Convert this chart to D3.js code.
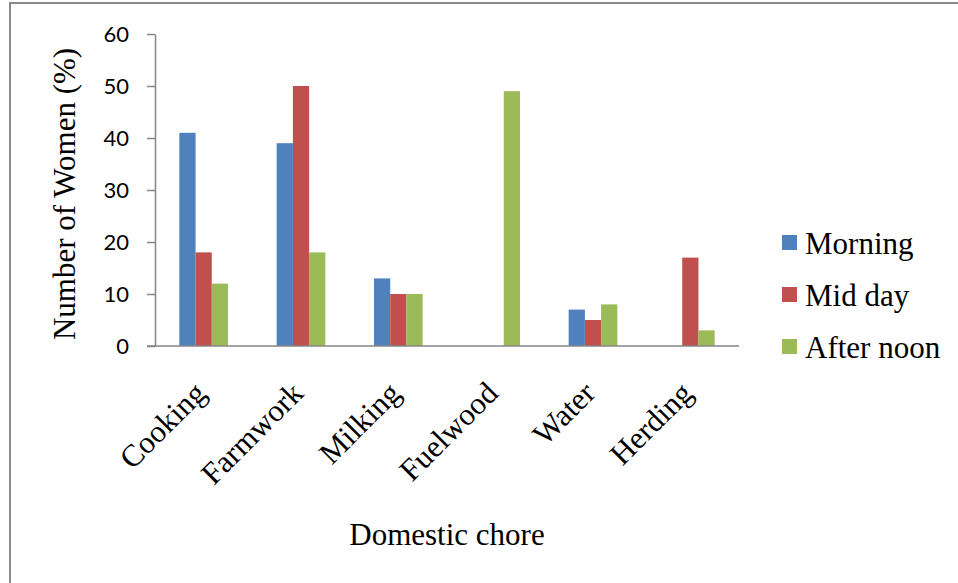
<!DOCTYPE html>
<html>
<head>
<meta charset="utf-8">
<script src="https://cdn.jsdelivr.net/npm/d3@7"></script>
<style>
  html, body { margin: 0; padding: 0; background: #fff; }
  svg { display: block; }
</style>
</head>
<body>
<svg id="chart" width="958" height="583"></svg>
<script>
// Share of women doing each domestic chore, by time of day
const categories = ["Cooking", "Farmwork", "Milking", "Fuelwood", "Water", "Herding"];
const seriesNames = ["Morning", "Mid day", "After noon"];
const morning   = [41, 39, 13, 0, 7, 0];
const midDay    = [18, 50, 10, 0, 5, 17];
const afterNoon = [12, 18, 10, 49, 8, 3];
const yTicks = [0, 10, 20, 30, 40, 50, 60];
const colors = ["#4F81BD", "#C0504D", "#9BBB59"];

const seriesValues = [morning, midDay, afterNoon];
const rows = categories.map((c, i) => ({
  category: c,
  values: seriesNames.map((s, j) => ({ series: s, value: seriesValues[j][i] }))
}));

const svg = d3.select("#chart");
const serif = "'Liberation Serif', 'Times New Roman', serif";
const axisColor = "#868686";

// Outer chart frame
svg.append("rect")
  .attr("x", 10).attr("y", 3)
  .attr("width", 1000).attr("height", 700)
  .attr("fill", "none")
  .attr("stroke", "#8a8a8a")
  .attr("stroke-width", 2);

const plot = { left: 155, right: 739, top: 34, bottom: 346 };

const x = d3.scaleBand().domain(categories).range([plot.left, plot.right]).padding(0);
const xInner = d3.scaleBand().domain(seriesNames)
  .range([x.bandwidth() * 0.25, x.bandwidth() * 0.75]).padding(0);
const y = d3.scaleLinear().domain([0, 60]).range([plot.bottom, plot.top]);
const color = d3.scaleOrdinal().domain(seriesNames).range(colors);

// Bars
const groups = svg.append("g").selectAll("g")
  .data(rows).join("g")
  .attr("transform", d => `translate(${x(d.category)},0)`);

groups.selectAll("rect")
  .data(d => d.values.filter(v => v.value > 0))
  .join("rect")
  .attr("x", d => xInner(d.series))
  .attr("width", xInner.bandwidth())
  .attr("y", d => y(d.value))
  .attr("height", d => y(0) - y(d.value))
  .attr("fill", d => color(d.series));

// Y axis
const yAxis = svg.append("g")
  .attr("transform", `translate(${plot.left},0)`)
  .call(d3.axisLeft(y).tickValues(yTicks).tickSize(8).tickPadding(18).tickSizeOuter(0));
yAxis.select(".domain").attr("stroke", axisColor).attr("stroke-width", 1.5);
yAxis.selectAll(".tick line").attr("stroke", axisColor).attr("stroke-width", 1.5);
yAxis.selectAll(".tick text")
  .attr("fill", "#000")
  .style("font-family", "Lato, 'Liberation Sans', sans-serif")
  .style("font-size", "22px");

// X axis
const xAxis = svg.append("g")
  .attr("transform", `translate(0,${plot.bottom})`)
  .call(d3.axisBottom(x).tickSize(0).tickSizeOuter(0).tickPadding(0));
xAxis.select(".domain").remove();
xAxis.append("line")
  .attr("x1", plot.left - 8).attr("x2", plot.right)
  .attr("y1", 0).attr("y2", 0)
  .attr("stroke", axisColor).attr("stroke-width", 1.5);
xAxis.selectAll(".tick text")
  .attr("fill", "#000")
  .attr("text-anchor", "end")
  .attr("dy", 0)
  .attr("y", 0)
  .attr("transform", "translate(4,49) rotate(-45)")
  .style("font-family", serif)
  .style("font-size", "31px");

// Axis titles
svg.append("text")
  .attr("transform", `translate(75,194) rotate(-90)`)
  .attr("text-anchor", "middle")
  .style("font-family", serif)
  .style("font-size", "31px")
  .text("Number of Women (%)");

svg.append("text")
  .attr("x", 447).attr("y", 545)
  .attr("text-anchor", "middle")
  .style("font-family", serif)
  .style("font-size", "31px")
  .text("Domestic chore");

// Legend
const legend = svg.append("g").selectAll("g")
  .data(seriesNames).join("g")
  .attr("transform", (d, i) => `translate(782,${243 + i * 52})`);
legend.append("rect")
  .attr("x", 0).attr("y", -8)
  .attr("width", 15).attr("height", 15)
  .attr("fill", d => color(d));
legend.append("text")
  .attr("x", 23).attr("y", 11)
  .style("font-family", serif)
  .style("font-size", "31px")
  .text(d => d);
</script>
</body>
</html>
